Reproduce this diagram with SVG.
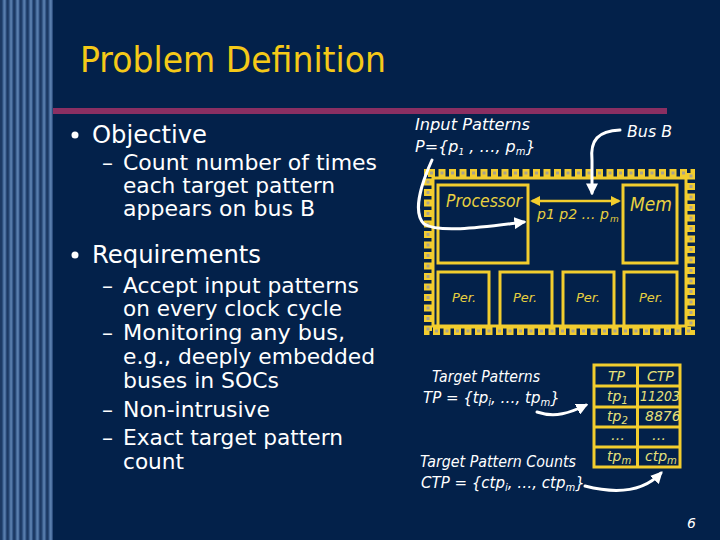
<svg xmlns="http://www.w3.org/2000/svg" width="720" height="540" viewBox="0 0 720 540">
<defs>
<pattern id="stripes" x="0" y="0" width="6.6" height="10" patternUnits="userSpaceOnUse">
<rect width="6.6" height="10" fill="#2f5283"/>
<rect x="0" width="2.2" height="10" fill="#1c3963"/>
<rect x="3.3" width="2.2" height="10" fill="#5a7fae"/>
</pattern>
<marker id="wh" viewBox="0 0 10 10" refX="8" refY="5" markerWidth="4" markerHeight="4" orient="auto-start-reverse">
<path d="M0,0 L10,5 L0,10 z" fill="#ffffff"/>
</marker>
<marker id="yh" viewBox="0 0 10 10" refX="8" refY="5" markerWidth="4" markerHeight="4" orient="auto-start-reverse">
<path d="M0,0 L10,5 L0,10 z" fill="#f2cd2e"/>
</marker>
<style>
.bg{fill:#03214a}
.title{font-family:"DejaVu Sans",sans-serif;font-size:36px;fill:#f5c918}
.l1{font-family:"DejaVu Sans",sans-serif;font-size:25px;fill:#ffffff}
.l2{font-family:"DejaVu Sans",sans-serif;font-size:22px;fill:#ffffff}
.it{font-family:"DejaVu Sans",sans-serif;font-style:italic;fill:#ffffff}
.yit{font-family:"DejaVu Sans",sans-serif;font-style:italic;fill:#e8d040}
.tb{font-family:"DejaVu Sans",sans-serif;font-style:italic;font-size:14px;fill:#e6e07a}
.box{fill:none;stroke:#f2cd2e;stroke-width:3}
.wl{fill:none;stroke:#ffffff;stroke-width:3;stroke-linecap:round}
</style>
</defs>
<rect class="bg" x="0" y="0" width="720" height="540"/>
<rect x="0" y="0" width="53" height="540" fill="url(#stripes)"/>
<rect x="53" y="108" width="614" height="6" fill="#8a2f62"/>
<text class="title" x="80" y="72" textLength="306" lengthAdjust="spacingAndGlyphs">Problem Definition</text>

<g id="left-text">
<circle cx="75" cy="135" r="3.5" fill="#ffffff"/>
<text class="l1" x="92" y="143" textLength="115" lengthAdjust="spacingAndGlyphs">Objective</text>
<text class="l2" x="102" y="170">–</text>
<text class="l2" x="123" y="170" textLength="254" lengthAdjust="spacingAndGlyphs">Count number of times</text>
<text class="l2" x="123" y="193" textLength="212" lengthAdjust="spacingAndGlyphs">each target pattern</text>
<text class="l2" x="123" y="216" textLength="192" lengthAdjust="spacingAndGlyphs">appears on bus B</text>
<circle cx="75" cy="255" r="3.5" fill="#ffffff"/>
<text class="l1" x="92" y="263" textLength="169" lengthAdjust="spacingAndGlyphs">Requirements</text>
<text class="l2" x="102" y="293">–</text>
<text class="l2" x="123" y="293" textLength="236" lengthAdjust="spacingAndGlyphs">Accept input patterns</text>
<text class="l2" x="123" y="316" textLength="219" lengthAdjust="spacingAndGlyphs">on every clock cycle</text>
<text class="l2" x="102" y="340">–</text>
<text class="l2" x="123" y="340" textLength="222" lengthAdjust="spacingAndGlyphs">Monitoring any bus,</text>
<text class="l2" x="123" y="364" textLength="252" lengthAdjust="spacingAndGlyphs">e.g., deeply embedded</text>
<text class="l2" x="123" y="388" textLength="156" lengthAdjust="spacingAndGlyphs">buses in SOCs</text>
<text class="l2" x="102" y="417">–</text>
<text class="l2" x="123" y="417" textLength="147" lengthAdjust="spacingAndGlyphs">Non-intrusive</text>
<text class="l2" x="102" y="445">–</text>
<text class="l2" x="123" y="445" textLength="220" lengthAdjust="spacingAndGlyphs">Exact target pattern</text>
<text class="l2" x="123" y="469" textLength="61" lengthAdjust="spacingAndGlyphs">count</text>
</g>

<g id="chip">
<rect x="428" y="173" width="263" height="158" fill="none" stroke="#f2cd2e" stroke-width="8" stroke-dasharray="7 3.5"/>
<rect x="428" y="173" width="263" height="158" fill="none" stroke="#a9a38c" stroke-width="3" stroke-dasharray="3 7.5" stroke-dashoffset="-2"/>
<rect x="433" y="178" width="253" height="148" fill="#03214a" stroke="#f2cd2e" stroke-width="3"/>
</g>
<g id="processor">
<rect class="box" x="438" y="185" width="90" height="78"/>
<text class="yit" x="446" y="207" font-size="17" textLength="76" lengthAdjust="spacingAndGlyphs">Processor</text>
</g>
<g id="mem">
<rect class="box" x="623" y="185" width="54" height="78"/>
<text class="yit" x="630" y="211" font-size="19" textLength="42" lengthAdjust="spacingAndGlyphs">Mem</text>
</g>
<g id="per1"><rect class="box" x="438" y="272" width="51" height="55"/><text class="yit" x="452" y="302" font-size="13">Per.</text></g>
<g id="per2"><rect class="box" x="500" y="272" width="52" height="55"/><text class="yit" x="513" y="302" font-size="13">Per.</text></g>
<g id="per3"><rect class="box" x="563" y="272" width="51" height="55"/><text class="yit" x="576" y="302" font-size="13">Per.</text></g>
<g id="per4"><rect class="box" x="624" y="272" width="53" height="55"/><text class="yit" x="639" y="302" font-size="13">Per.</text></g>
<text class="yit" x="537" y="219" font-size="14" textLength="72" lengthAdjust="spacingAndGlyphs">p1 p2 … p</text>
<text class="yit" x="610" y="222" font-size="9">m</text>

<g id="labels">
<text class="it" x="415" y="130" font-size="16" textLength="115" lengthAdjust="spacingAndGlyphs">Input Patterns</text>
<text class="it" x="415" y="152" font-size="16">P={p<tspan font-size="9" dy="3">1</tspan><tspan dy="-3"> , …, p</tspan><tspan font-size="10" dy="3">m</tspan><tspan dy="-3">}</tspan></text>
<text class="it" x="627" y="137" font-size="16" textLength="45" lengthAdjust="spacingAndGlyphs">Bus B</text>
<text class="it" x="432" y="382" font-size="15" textLength="108" lengthAdjust="spacingAndGlyphs">Target Patterns</text>
<text class="it" x="423" y="403" font-size="15">TP = {tp<tspan font-size="10" dy="3">i</tspan><tspan dy="-3">, …, tp</tspan><tspan font-size="10" dy="3">m</tspan><tspan dy="-3">}</tspan></text>
<text class="it" x="420" y="467" font-size="15" textLength="156" lengthAdjust="spacingAndGlyphs">Target Pattern Counts</text>
<text class="it" x="421" y="488" font-size="15">CTP = {ctp<tspan font-size="10" dy="3">i</tspan><tspan dy="-3">, …, ctp</tspan><tspan font-size="10" dy="3">m</tspan><tspan dy="-3">}</tspan></text>
<text class="it" x="687" y="528" font-size="14">6</text>
</g>

<g id="table">
<rect x="594" y="365" width="86" height="102" fill="none" stroke="#f2cd2e" stroke-width="3"/>
<line x1="637.5" y1="365" x2="637.5" y2="467" stroke="#f2cd2e" stroke-width="3"/>
<line x1="594" y1="386" x2="680" y2="386" stroke="#f2cd2e" stroke-width="3"/>
<line x1="594" y1="407" x2="680" y2="407" stroke="#f2cd2e" stroke-width="3"/>
<line x1="594" y1="427" x2="680" y2="427" stroke="#f2cd2e" stroke-width="3"/>
<line x1="594" y1="447" x2="680" y2="447" stroke="#f2cd2e" stroke-width="3"/>
<text class="tb" x="608" y="381">TP</text>
<text class="tb" x="647" y="381">CTP</text>
<text class="tb" x="607" y="401">tp<tspan font-size="10" dy="3">1</tspan></text>
<text class="tb" x="640" y="401" textLength="40" lengthAdjust="spacingAndGlyphs">11203</text>
<text class="tb" x="607" y="421">tp<tspan font-size="10" dy="3">2</tspan></text>
<text class="tb" x="645" y="421">8876</text>
<text class="tb" x="611" y="440">…</text>
<text class="tb" x="652" y="440">…</text>
<text class="tb" x="607" y="461">tp<tspan font-size="10" dy="3">m</tspan></text>
<text class="tb" x="645" y="461">ctp<tspan font-size="10" dy="3">m</tspan></text>
</g>

<g id="connectors">
<line x1="532" y1="201" x2="619" y2="201" stroke="#f2cd2e" stroke-width="2.5" marker-start="url(#yh)" marker-end="url(#yh)"/>
<path class="wl" d="M432,160 C422,182 412,212 424,224 C440,234 490,226 524,222" marker-end="url(#wh)"/>
<path class="wl" d="M620,130 C598,131 590,140 592,160 L592,193" marker-end="url(#wh)"/>
<path class="wl" d="M537,412 C555,418 570,413 586,405" marker-end="url(#wh)"/>
<path class="wl" d="M585,486 C620,495 645,490 661,473" marker-end="url(#wh)"/>
</g>
</svg>
